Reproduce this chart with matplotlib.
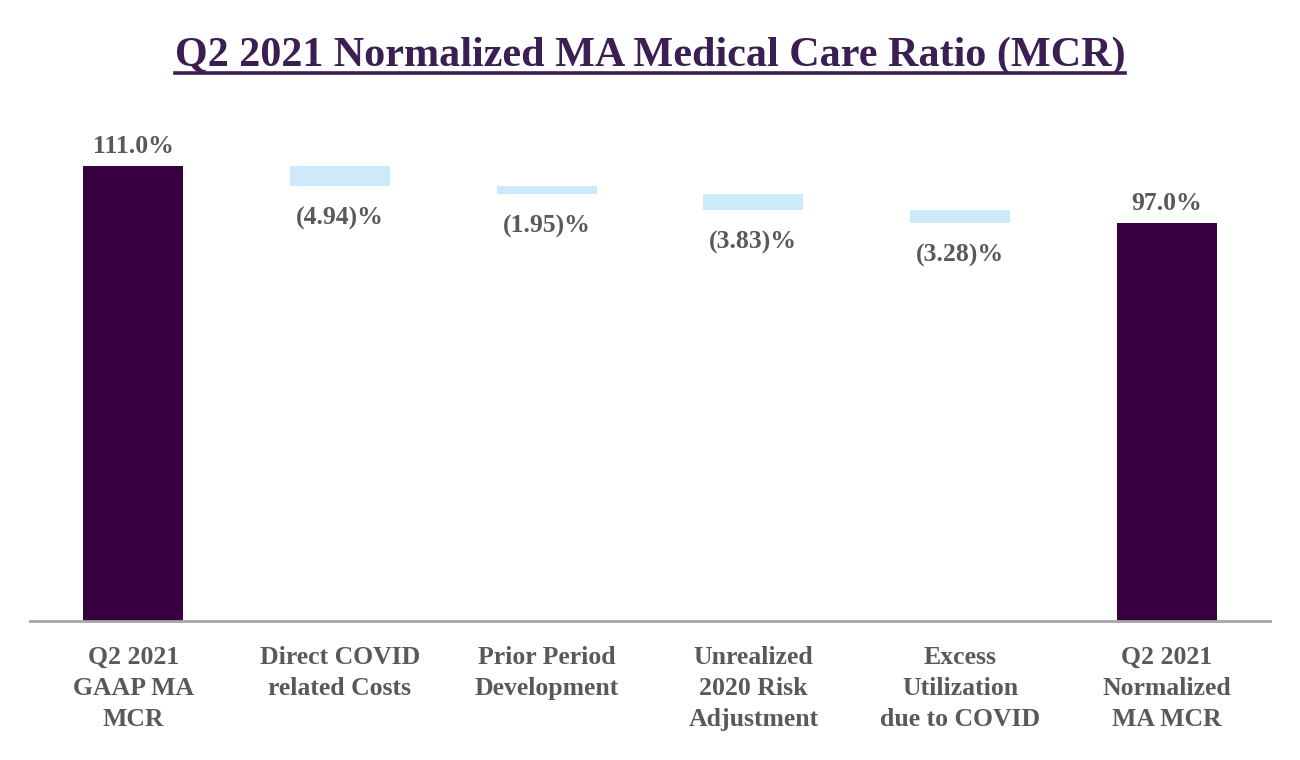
import matplotlib
matplotlib.use("Agg")
import matplotlib.pyplot as plt
from matplotlib.lines import Line2D

categories = ["Q2 2021\nGAAP MA\nMCR", "Direct COVID\nrelated Costs", "Prior Period\nDevelopment",
              "Unrealized\n2020 Risk\nAdjustment", "Excess\nUtilization\ndue to COVID",
              "Q2 2021\nNormalized\nMA MCR"]
start_value = 111.0
deltas = [-4.94, -1.95, -3.83, -3.28]
end_value = 97.0
value_labels = ["111.0%", "(4.94)%", "(1.95)%", "(3.83)%", "(3.28)%", "97.0%"]

title = "Q2 2021 Normalized MA Medical Care Ratio (MCR)"

total_color = "#380040"
delta_color = "#cdeafa"
text_gray = "#595959"
title_color = "#3b1f52"

plt.rcParams['font.family'] = ['Liberation Serif', 'DejaVu Serif']

fig = plt.figure(figsize=(13, 7.6), dpi=100)
ax = fig.add_axes([30/1300, 139/760, 1240/1300, 521/760])

width = 0.484
lab_fs = 18.5
# total bars
ax.bar(0, start_value, width=width, color=total_color)
ax.bar(5, end_value, width=width, color=total_color)
# floating bars
level = start_value
for i, d in enumerate(deltas, start=1):
    ax.bar(i, d, bottom=level, width=width, color=delta_color)
    ax.text(i, level + d - 8.0, value_labels[i], ha='center', va='center',
            fontsize=lab_fs, fontweight='bold', color=text_gray)
    level += d

ax.text(0, start_value + 4.7, value_labels[0], ha='center', va='center',
        fontsize=lab_fs, fontweight='bold', color=text_gray)
ax.text(5, end_value + 4.7, value_labels[5], ha='center', va='center',
        fontsize=lab_fs, fontweight='bold', color=text_gray)

ax.set_xlim(-0.5, 5.5)
ax.set_ylim(0, 127)
ax.set_yticks([])
ax.set_xticks(range(len(categories)))
ax.set_xticklabels(categories, fontsize=lab_fs, fontweight='bold', color=text_gray,
                   linespacing=1.44)
ax.tick_params(axis='x', length=0, pad=18)
for s in ['top', 'right', 'left']:
    ax.spines[s].set_visible(False)
ax.spines['bottom'].set_color('#a6a6a6')
ax.spines['bottom'].set_linewidth(2)

t = fig.text(0.5, 1 - 66/760, title, ha='center', va='baseline', fontsize=30.3,
             fontweight='bold', color=title_color)
fig.canvas.draw()
bb = t.get_window_extent(renderer=fig.canvas.get_renderer())
x0, x1 = bb.x0 / fig.bbox.width, bb.x1 / fig.bbox.width
yline = 1 - 73/760
fig.add_artist(Line2D([x0, x1], [yline, yline], transform=fig.transFigure,
                      color=title_color, linewidth=2.6))

fig.savefig("out.png", dpi=100)
